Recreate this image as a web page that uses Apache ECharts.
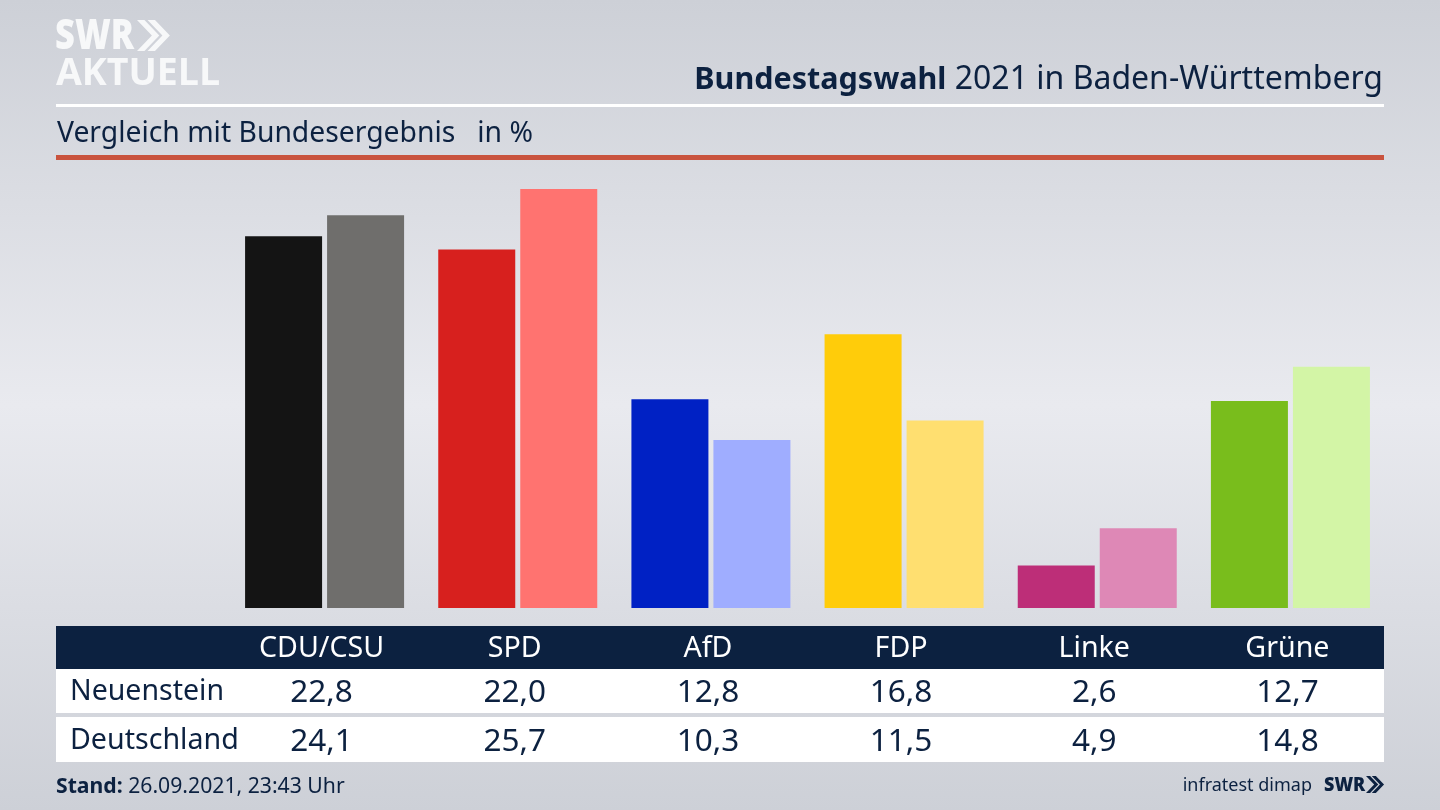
<!DOCTYPE html>
<html>

<head>
    <meta charset="utf-8" />
    <title>Bundestagswahl 2021 in Baden-Württemberg</title>
    <script src="https://cdn.jsdelivr.net/npm/echarts@6/dist/echarts.min.js"></script>
    <style>
        html, body {
            margin: 0;
            padding: 0;
            overflow: hidden;
        }

        #chart {
            width: 1440px;
            height: 810px;
        }
    </style>
</head>

<body>
    <div id="chart"></div>
    <script type="text/javascript">
        var parties = ['CDU/CSU', 'SPD', 'AfD', 'FDP', 'Linke', 'Grüne'];
        var neuenstein = [22.8, 22.0, 12.8, 16.8, 2.6, 12.7];
        var deutschland = [24.1, 25.7, 10.3, 11.5, 4.9, 14.8];
        var neuensteinColors = ['#141414', '#d7201e', '#0021c4', '#ffcc0a', '#bd2e78', '#79bd1c'];
        var deutschlandColors = ['#6f6e6c', '#ff7370', '#9fadff', '#ffdf70', '#de88b6', '#d3f5a6'];

        var FONT = '"Noto Sans", sans-serif';
        var LOGO_FONT = '"Open Sans", sans-serif';
        var NAVY = '#0c2140';
        var LOGO_WHITE = '#f7f8f9';

        var chart = echarts.init(document.getElementById('chart'));

        function comma(v) {
            return v.toFixed(1).replace('.', ',');
        }

        function colored(values, colors) {
            return values.map(function(v, i) {
                return { value: v, itemStyle: { color: colors[i] } };
            });
        }

        chart.setOption({
            animation: false,
            backgroundColor: {
                type: 'linear', x: 0, y: 0, x2: 0, y2: 1,
                colorStops: [
                    { offset: 0, color: '#cdd0d7' },
                    { offset: 0.5, color: '#e9eaef' },
                    { offset: 1, color: '#cdd0d7' }
                ]
            },
            grid: { left: 228, width: 1159, top: 151.6, height: 456.4 },
            xAxis: { type: 'category', data: parties, show: false },
            yAxis: { type: 'value', min: 0, max: 28, show: false },
            series: [
                { name: 'Neuenstein', type: 'bar', barWidth: 77, barGap: '6.5%', data: colored(neuenstein, neuensteinColors) },
                { name: 'Deutschland', type: 'bar', barWidth: 77, data: colored(deutschland, deutschlandColors) }
            ]
        });

        function rect(x, y, w, h, fill) {
            return { type: 'rect', shape: { x: x, y: y, width: w, height: h }, style: { fill: fill } };
        }

        function label(x, y, text, size, fill, align) {
            return {
                type: 'text', x: x, y: y,
                style: { text: text, font: size + 'px ' + FONT, fill: fill, align: align || 'left', verticalAlign: 'middle' }
            };
        }

        // the two chevrons behind SWR
        function chevrons(x, y, h, fill) {
            var w = h * 0.48, t = h * 0.24, out = [];
            [0, 1].forEach(function(n) {
                var dx = x + n * (t + h * 0.1);
                out.push({
                    type: 'polygon',
                    shape: { points: [[dx, y], [dx + t, y], [dx + t + w, y + h / 2], [dx + t, y + h], [dx, y + h], [dx + w, y + h / 2]] },
                    style: { fill: fill }
                });
            });
            return out;
        }

        var items = [
            { type: 'text', x: 55, y: 37, scaleX: 0.82, style: { text: 'SWR', font: '800 42px ' + LOGO_FONT, fill: LOGO_WHITE, verticalAlign: 'middle' } },
            { type: 'text', x: 56, y: 74, style: { text: 'AKTUELL', font: '700 37.5px ' + LOGO_FONT, fill: LOGO_WHITE, verticalAlign: 'middle' } },
            {
                type: 'text', x: 1383, y: 80,
                style: {
                    text: '{b|Bundestagswahl} {r|2021 in Baden-Württemberg}',
                    font: '32px ' + FONT, fill: NAVY, align: 'right', verticalAlign: 'middle',
                    rich: {
                        b: { font: '700 30.5px ' + FONT, fill: NAVY },
                        r: { font: '32px ' + FONT, fill: NAVY }
                    }
                }
            },
            rect(56, 104, 1328, 3, '#ffffff'),
            label(57, 134, 'Vergleich mit Bundesergebnis   in %', 28.3, NAVY),
            rect(56, 155, 1328, 5, '#c9533e'),
            rect(56, 626, 1328, 43, NAVY),
            rect(56, 669, 1328, 44, '#ffffff'),
            rect(56, 717, 1328, 45, '#ffffff'),
            label(70, 692, 'Neuenstein', 28.5, NAVY),
            label(70, 741, 'Deutschland', 28.6, NAVY),
            {
                type: 'text', x: 56, y: 787,
                style: {
                    text: '{b|Stand:} {r|26.09.2021, 23:43 Uhr}',
                    font: '21.2px ' + FONT, fill: NAVY, verticalAlign: 'middle',
                    rich: {
                        b: { font: '700 21.2px ' + FONT, fill: NAVY },
                        r: { font: '21.2px ' + FONT, fill: NAVY }
                    }
                }
            },
            label(1312, 786, 'infratest dimap', 18, NAVY, 'right'),
            { type: 'text', x: 1324, y: 785, scaleX: 0.9, style: { text: 'SWR', font: '800 20px ' + LOGO_FONT, fill: NAVY, verticalAlign: 'middle' } }
        ];
        items = items.concat(chevrons(137, 20, 31, LOGO_WHITE), chevrons(1366, 776, 17, NAVY));

        // table columns sit under the bars, so take them from the category axis
        parties.forEach(function(p, i) {
            var cx = chart.convertToPixel({ xAxisIndex: 0 }, p);
            items.push(label(cx - 3, 649, p, 28.6, '#ffffff', 'center'));
            items.push(label(cx - 3, 693, comma(neuenstein[i]), 31.5, NAVY, 'center'));
            items.push(label(cx - 3, 742, comma(deutschland[i]), 31.5, NAVY, 'center'));
        });

        chart.setOption({ graphic: { elements: items } });
    </script>
</body>

</html>
